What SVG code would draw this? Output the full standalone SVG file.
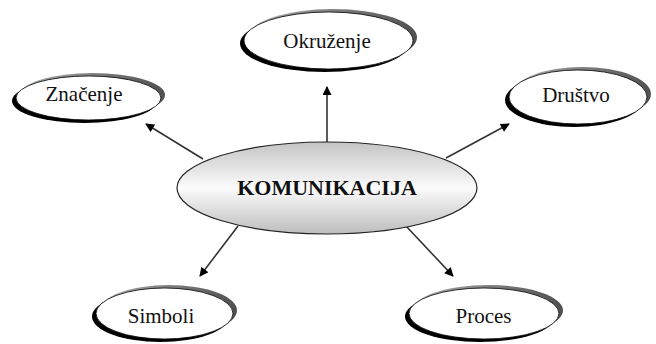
<svg xmlns="http://www.w3.org/2000/svg" width="656" height="344" viewBox="0 0 656 344">
<style>
.lbl{font-family:"Liberation Serif","Times New Roman",serif;font-size:21px;fill:#111;text-anchor:middle}
.main{font-family:"Liberation Serif","Times New Roman",serif;font-size:22px;font-weight:bold;fill:#111;text-anchor:middle}
.sh1{fill:url(#gshade)}
.sh2{fill:#000}
.face{fill:#fff;stroke:#000;stroke-width:0.8}
.conn{stroke:#333;stroke-width:1.6;fill:none;marker-end:url(#ah)}
</style>
<defs>
<linearGradient id="gshade" x1="0" y1="0" x2="1" y2="0">
<stop offset="0" stop-color="#b0b0b0"/>
<stop offset="1" stop-color="#505050"/>
</linearGradient>
<linearGradient id="gmain" x1="0" y1="0" x2="0" y2="1">
<stop offset="0" stop-color="#c4c4c4"/>
<stop offset="0.5" stop-color="#fbfbfb"/>
<stop offset="1" stop-color="#bdbdbd"/>
</linearGradient>
<marker id="ah" viewBox="0 0 10 10" refX="9" refY="5" markerWidth="10" markerHeight="9" orient="auto" markerUnits="userSpaceOnUse">
<path d="M0,0 L10,5 L0,10 z" fill="#000"/>
</marker>
</defs>
<g id="connectors">
<line class="conn" x1="327" y1="142" x2="327" y2="87"/>
<line class="conn" x1="203" y1="159" x2="146" y2="124"/>
<line class="conn" x1="446" y1="158" x2="509" y2="124"/>
<line class="conn" x1="238" y1="226" x2="200" y2="276"/>
<line class="conn" x1="406" y1="226" x2="453" y2="276"/>
</g>
<g id="komunikacija">
<ellipse cx="327" cy="188" rx="150" ry="46" fill="url(#gmain)" stroke="#222" stroke-width="1.2"/>
<text class="main" x="327" y="195">KOMUNIKACIJA</text>
</g>
<g id="znacenje">
<ellipse class="sh1" cx="92.5" cy="95" rx="72.5" ry="22"/>
<ellipse class="sh2" cx="84.5" cy="101" rx="72.5" ry="22"/>
<ellipse class="face" cx="88.5" cy="98" rx="72.5" ry="22"/>
<text class="lbl" x="84" y="101">Značenje</text>
</g>
<g id="okruzenje">
<ellipse class="sh1" cx="332.5" cy="37.5" rx="84.5" ry="28.5"/>
<ellipse class="sh2" cx="324.5" cy="43.5" rx="84.5" ry="28.5"/>
<ellipse class="face" cx="328.5" cy="40.5" rx="84.5" ry="28.5"/>
<text class="lbl" x="327" y="48">Okruženje</text>
</g>
<g id="drustvo">
<ellipse class="sh1" cx="582" cy="94" rx="69" ry="27"/>
<ellipse class="sh2" cx="574" cy="100" rx="69" ry="27"/>
<ellipse class="face" cx="578" cy="97" rx="69" ry="27"/>
<text class="lbl" x="576" y="102">Društvo</text>
</g>
<g id="simboli">
<ellipse class="sh1" cx="168.5" cy="310.5" rx="68.5" ry="25.5"/>
<ellipse class="sh2" cx="160.5" cy="316.5" rx="68.5" ry="25.5"/>
<ellipse class="face" cx="164.5" cy="313.5" rx="68.5" ry="25.5"/>
<text class="lbl" x="161" y="323">Simboli</text>
</g>
<g id="proces">
<ellipse class="sh1" cx="488" cy="310.5" rx="75" ry="25.5"/>
<ellipse class="sh2" cx="480" cy="316.5" rx="75" ry="25.5"/>
<ellipse class="face" cx="484" cy="313.5" rx="75" ry="25.5"/>
<text class="lbl" x="483.5" y="323">Proces</text>
</g>
</svg>
